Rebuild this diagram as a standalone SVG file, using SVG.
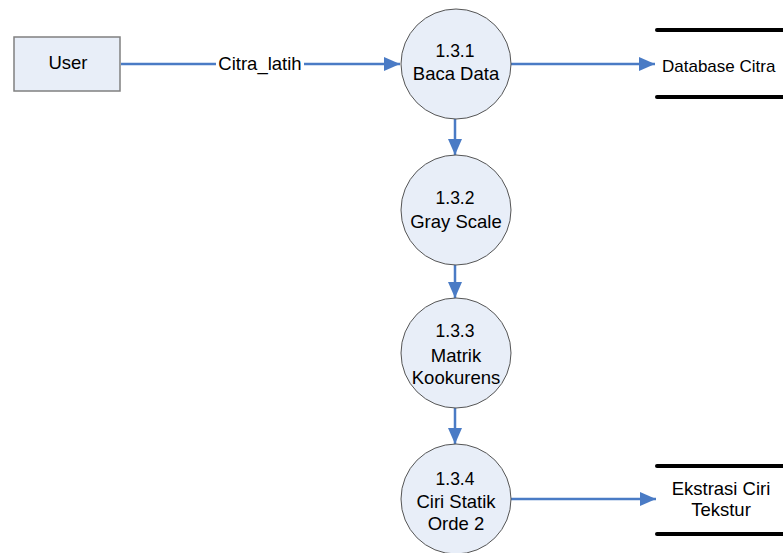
<svg xmlns="http://www.w3.org/2000/svg" width="783" height="553" viewBox="0 0 783 553">
  <style>
    text { font-family: "Liberation Sans", Arial, sans-serif; font-size: 18.5px; fill: #000; }
    .num { font-size: 17.5px; }
    .edge { font-size: 17px; }
    .mid { text-anchor: middle; }
    .proc { fill: #e8eef8; stroke: #555; stroke-width: 1; }
    .ext { fill: #e8eef8; stroke: #808080; stroke-width: 1.5; }
    .flow { stroke: #4a7bc5; stroke-width: 2.5; fill: none; }
    .store { stroke: #000; stroke-width: 4; stroke-linecap: round; }
  </style>
  <defs>
    <marker id="arrow" viewBox="0 0 16 16" refX="16" refY="8" markerWidth="16" markerHeight="16" markerUnits="userSpaceOnUse" orient="auto">
      <path d="M0,1 L16,8 L0,15 Z" fill="#4a7bc5"/>
    </marker>
  </defs>
  <rect width="783" height="553" fill="#fff"/>

  <!-- connectors -->
  <g id="connectors">
    <line class="flow" x1="121" y1="64" x2="400" y2="64" marker-end="url(#arrow)"/>
    <rect x="216" y="54" width="88" height="20" fill="#fff"/>
    <text class="mid" x="260" y="70">Citra_latih</text>
    <line class="flow" x1="511" y1="64" x2="655" y2="64" marker-end="url(#arrow)"/>
    <line class="flow" x1="455" y1="119" x2="455" y2="155" marker-end="url(#arrow)"/>
    <line class="flow" x1="455" y1="265" x2="455" y2="298" marker-end="url(#arrow)"/>
    <line class="flow" x1="455" y1="408" x2="455" y2="444" marker-end="url(#arrow)"/>
    <line class="flow" x1="511" y1="499" x2="656" y2="499" marker-end="url(#arrow)"/>
  </g>

  <!-- external entity -->
  <g id="user">
    <rect class="ext" x="14" y="37" width="106" height="54"/>
    <text class="mid" x="68" y="69">User</text>
  </g>

  <!-- processes -->
  <g id="p131">
    <circle class="proc" cx="456" cy="64" r="55"/>
    <text class="mid num" x="455" y="57">1.3.1</text>
    <text class="mid" x="456" y="80">Baca Data</text>
  </g>
  <g id="p132">
    <circle class="proc" cx="456" cy="210" r="55"/>
    <text class="mid num" x="455" y="204">1.3.2</text>
    <text class="mid" x="456" y="228">Gray Scale</text>
  </g>
  <g id="p133">
    <circle class="proc" cx="456" cy="353" r="55"/>
    <text class="mid num" x="455" y="337">1.3.3</text>
    <text class="mid" x="456" y="362">Matrik</text>
    <text class="mid" x="456" y="384">Kookurens</text>
  </g>
  <g id="p134">
    <circle class="proc" cx="456" cy="499" r="55"/>
    <text class="mid num" x="455" y="485">1.3.4</text>
    <text class="mid" x="456" y="508">Ciri Statik</text>
    <text class="mid" x="456" y="530">Orde 2</text>
  </g>

  <!-- data stores -->
  <g id="db-citra">
    <line class="store" x1="657" y1="30" x2="790" y2="30"/>
    <line class="store" x1="657" y1="97" x2="790" y2="97"/>
    <text class="edge" x="662" y="72">Database Citra</text>
  </g>
  <g id="ekstrasi">
    <line class="store" x1="657" y1="466" x2="790" y2="466"/>
    <line class="store" x1="657" y1="534" x2="790" y2="534"/>
    <text class="mid" x="721" y="495">Ekstrasi Ciri</text>
    <text class="mid" x="721" y="516">Tekstur</text>
  </g>
</svg>
